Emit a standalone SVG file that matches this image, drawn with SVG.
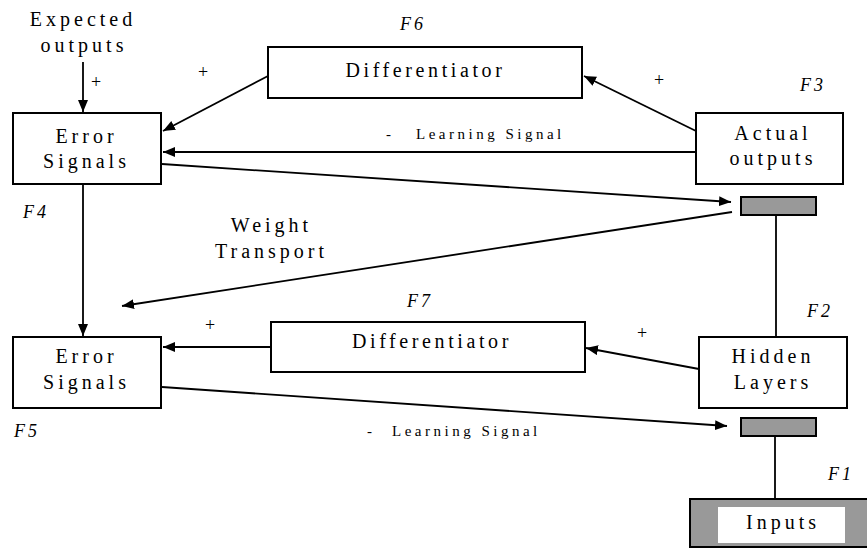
<svg xmlns="http://www.w3.org/2000/svg" width="867" height="548" viewBox="0 0 867 548">
<style>
  .box { fill: #ffffff; stroke: #000000; stroke-width: 2; }
  .pad { fill: #999999; stroke: #000000; stroke-width: 2; }
  .ln { fill: none; stroke: #000000; stroke-width: 1.8; }
  .arr { fill: none; stroke: #000000; stroke-width: 1.8; marker-end: url(#ah); }
  .t { font-family: "Liberation Serif", "Times New Roman", serif; font-size: 20px; letter-spacing: 4px; fill: #000000; text-anchor: middle; }
  .f { font-family: "Liberation Serif", "Times New Roman", serif; font-size: 18px; font-style: italic; letter-spacing: 3px; fill: #000000; }
  .s { font-family: "Liberation Serif", "Times New Roman", serif; font-size: 15px; letter-spacing: 3.5px; fill: #000000; }
  .p { font-family: "Liberation Serif", "Times New Roman", serif; font-size: 18px; fill: #000000; text-anchor: middle; }
</style>
<defs>
  <marker id="ah" markerUnits="userSpaceOnUse" markerWidth="13" markerHeight="11" refX="12" refY="5" orient="auto">
    <path d="M0,0 L12,5 L0,10 z" fill="#000000"/>
  </marker>
</defs>
<rect width="867" height="548" fill="#ffffff"/>

<g id="connectors">
  <line class="arr" x1="83" y1="62" x2="83" y2="112"/>
  <line class="arr" x1="268" y1="76" x2="163" y2="131"/>
  <line class="arr" x1="696" y1="131" x2="584" y2="76"/>
  <line class="arr" x1="696" y1="152" x2="163" y2="152"/>
  <line class="arr" x1="162" y1="164" x2="731" y2="202"/>
  <line class="ln" x1="776" y1="215" x2="776" y2="337"/>
  <line class="arr" x1="732" y1="212" x2="122" y2="306"/>
  <line class="arr" x1="83" y1="184" x2="83" y2="336"/>
  <line class="arr" x1="271" y1="347" x2="163" y2="347"/>
  <line class="arr" x1="699" y1="369" x2="586" y2="348"/>
  <line class="arr" x1="162" y1="387" x2="727" y2="426"/>
  <line class="ln" x1="775" y1="436" x2="775" y2="499"/>
  <text class="p" x="96" y="88">+</text>
  <text class="p" x="203" y="78">+</text>
  <text class="p" x="659" y="86">+</text>
  <text class="p" x="210" y="331">+</text>
  <text class="p" x="642" y="339">+</text>
  <text class="s" x="386" y="139">-</text>
  <text class="s" x="416" y="139">Learning Signal</text>
  <text class="s" x="367" y="436">-</text>
  <text class="s" x="392" y="436">Learning Signal</text>
  <text class="t" x="271.5" y="232">Weight</text>
  <text class="t" x="271.5" y="258">Transport</text>
</g>

<g id="expected">
  <text class="t" x="83" y="26">Expected</text>
  <text class="t" x="84" y="52">outputs</text>
</g>

<g id="error1">
  <rect class="box" x="13" y="113" width="148" height="71"/>
  <text class="t" x="86.5" y="143">Error</text>
  <text class="t" x="86.5" y="168">Signals</text>
  <text class="f" x="23" y="218">F4</text>
</g>

<g id="diff6">
  <rect class="box" x="268" y="47" width="314" height="51"/>
  <text class="t" x="425.5" y="77" style="letter-spacing:3.6px">Differentiator</text>
  <text class="f" x="400" y="30">F6</text>
</g>

<g id="actual">
  <rect class="box" x="696" y="113" width="147" height="71"/>
  <text class="t" x="773" y="140">Actual</text>
  <text class="t" x="773" y="165">outputs</text>
  <text class="f" x="800" y="91">F3</text>
</g>

<g id="pad1">
  <rect class="pad" x="741" y="197" width="75" height="18"/>
</g>

<g id="error2">
  <rect class="box" x="13" y="337" width="148" height="71"/>
  <text class="t" x="86.5" y="363">Error</text>
  <text class="t" x="86.5" y="389">Signals</text>
  <text class="f" x="14" y="437">F5</text>
</g>

<g id="diff7">
  <rect class="box" x="271" y="322" width="314" height="50"/>
  <text class="t" x="432" y="348" style="letter-spacing:3.6px">Differentiator</text>
  <text class="f" x="407" y="307">F7</text>
</g>

<g id="hidden">
  <rect class="box" x="699" y="337" width="148" height="71"/>
  <text class="t" x="773" y="363">Hidden</text>
  <text class="t" x="773" y="389">Layers</text>
  <text class="f" x="807" y="317">F2</text>
</g>

<g id="pad2">
  <rect class="pad" x="741" y="418" width="75" height="18"/>
</g>

<g id="inputs">
  <rect class="pad" x="690" y="499" width="190" height="48"/>
  <rect x="718" y="507" width="127" height="36" fill="#ffffff"/>
  <text class="t" x="783" y="529">Inputs</text>
  <text class="f" x="828" y="480">F1</text>
</g>
</svg>
